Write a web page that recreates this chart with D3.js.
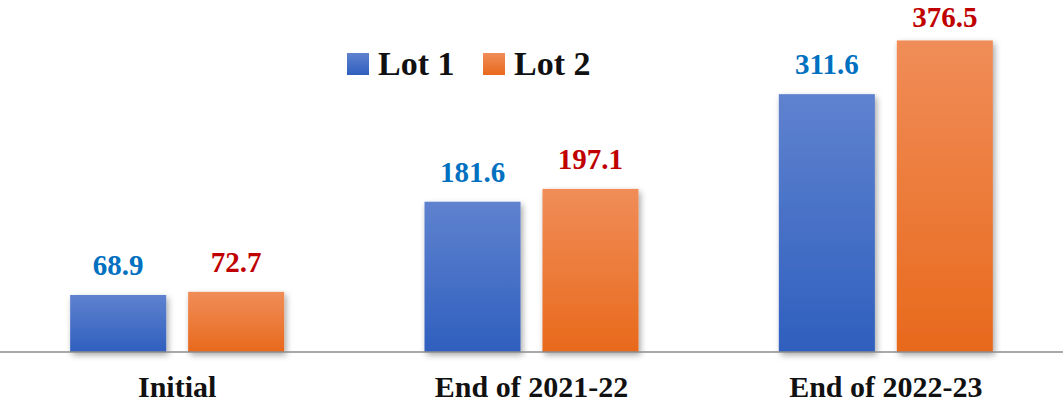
<!DOCTYPE html>
<html><head><meta charset="utf-8">
<script src="https://cdn.jsdelivr.net/npm/d3@7"></script>
<style>body{margin:0;background:#fff}svg{display:block}</style>
</head><body><div id="chart"></div>
<script>
const categories = ["Initial", "End of 2021-22", "End of 2022-23"];
const seriesNames = ["Lot 1", "Lot 2"];
const lot1 = [68.9, 181.6, 311.6];
const lot2 = [72.7, 197.1, 376.5];

const W = 1063, H = 403;
const svg = d3.select("#chart").append("svg").attr("width", W).attr("height", H);
const defs = svg.append("defs");
const grads = [["g0", "#5f82cf", "#2f5fbe"], ["g1", "#f08d58", "#e8691c"]];
grads.forEach(([id, c1, c2]) => {
  const g = defs.append("linearGradient").attr("id", id).attr("x1", 0).attr("y1", 0).attr("x2", 0).attr("y2", 1);
  g.append("stop").attr("offset", "0%").attr("stop-color", c1);
  g.append("stop").attr("offset", "100%").attr("stop-color", c2);
});
const f = defs.append("filter").attr("id", "sh").attr("x", "-20%").attr("y", "-20%").attr("width", "140%").attr("height", "140%");
f.append("feDropShadow").attr("dx", 2).attr("dy", 3).attr("stdDeviation", 3).attr("flood-color", "#000").attr("flood-opacity", 0.35);

const x0 = d3.scaleBand().domain(categories).range([0, W]).paddingInner(0.396).paddingOuter(0.198);
const x1 = d3.scaleBand().domain(seriesNames).range([0, x0.bandwidth()]).paddingInner(0.186).paddingOuter(0);
const y = d3.scaleLinear().domain([0, 400]).range([352, 21]);

const data = categories.map((c, i) => ({cat: c, vals: [lot1[i], lot2[i]]}));
const labelColors = ["#0070c0", "#c00000"];
const font = "'Liberation Serif', 'Times New Roman', serif";

const groups = svg.selectAll("g.grp").data(data).enter().append("g").attr("class", "grp")
  .attr("transform", d => `translate(${x0(d.cat)},0)`);
groups.selectAll("rect").data(d => d.vals.map((v, j) => ({v, s: seriesNames[j], j}))).enter().append("rect")
  .attr("x", d => x1(d.s)).attr("width", x1.bandwidth())
  .attr("y", d => y(d.v)).attr("height", d => y(0) - y(d.v))
  .attr("fill", d => `url(#g${d.j})`).attr("filter", "url(#sh)");

// axis line
svg.append("line").attr("x1", 0).attr("x2", W).attr("y1", y(0)).attr("y2", y(0))
  .attr("stroke", "#8c8c8c").attr("stroke-width", 1.5);

groups.selectAll("text.val").data(d => d.vals.map((v, j) => ({v, s: seriesNames[j], j}))).enter().append("text")
  .attr("class", "val")
  .attr("x", d => x1(d.s) + x1.bandwidth() / 2).attr("y", d => Math.max(y(d.v) - 20, 27))
  .attr("text-anchor", "middle").attr("font-family", font).attr("font-weight", "bold").attr("font-size", 29)
  .attr("fill", d => labelColors[d.j]).text(d => d.v.toFixed(1));

svg.selectAll("text.cat").data(categories).enter().append("text").attr("class", "cat")
  .attr("x", d => x0(d) + x0.bandwidth() / 2).attr("y", 397)
  .attr("text-anchor", "middle").attr("font-family", font).attr("font-weight", "bold").attr("font-size", 30)
  .attr("fill", "#111").text(d => d);

// legend
const legend = svg.append("g");
const legX = [347, 483];
seriesNames.forEach((s, j) => {
  legend.append("rect").attr("x", legX[j]).attr("y", 53).attr("width", 22).attr("height", 22).attr("fill", `url(#g${j})`);
  legend.append("text").attr("x", legX[j] + 31).attr("y", 75).attr("font-family", font).attr("font-weight", "bold")
    .attr("font-size", 34).attr("fill", "#111").text(s);
});
</script></body></html>
